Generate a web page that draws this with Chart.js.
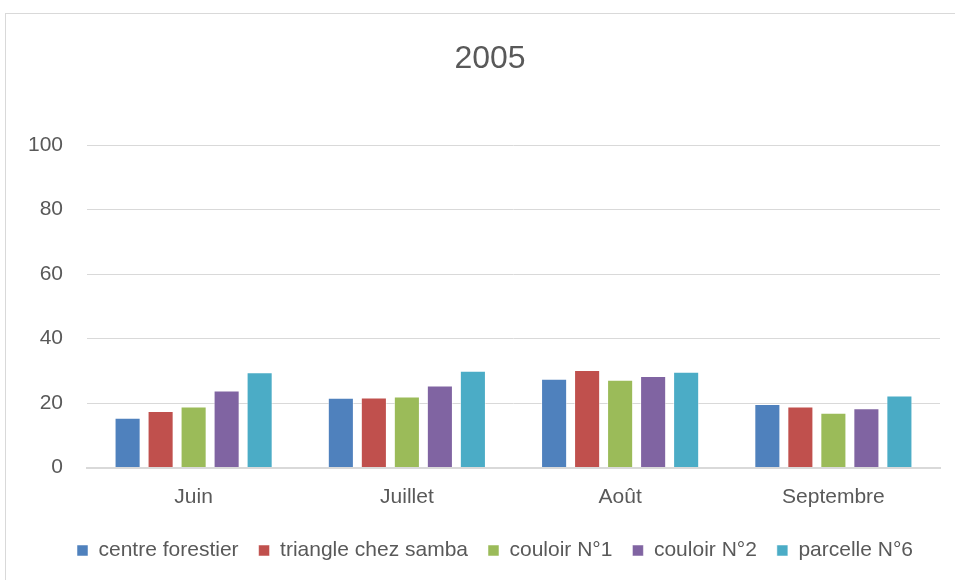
<!DOCTYPE html>
<html>
<head>
<meta charset="utf-8">
<script src="https://cdn.jsdelivr.net/npm/chart.js@4"></script>
<style>
  html, body { margin: 0; padding: 0; background: #fff; overflow: hidden; }
  #frame { position: absolute; left: 5px; top: 13px; width: 1000px; height: 1000px; border: 1px solid #d9d9d9; box-sizing: border-box; }
  #wrap { position: absolute; left: 0; top: 0; width: 955px; height: 580px; }
</style>
</head>
<body>
<div id="frame"></div>
<div id="wrap"><canvas id="c" width="955" height="580"></canvas></div>
<script>
const titleText = "2005";
const categories = ["Juin", "Juillet", "Août", "Septembre"];
const seriesNames = ["centre forestier", "triangle chez samba", "couloir N°1", "couloir N°2", "parcelle N°6"];
const centreForestier = [15.4, 21.6, 27.5, 19.7];
const triangleChezSamba = [17.5, 21.7, 30.2, 18.9];
const couloirN1 = [18.9, 22.0, 27.2, 17.0];
const couloirN2 = [23.9, 25.4, 28.4, 18.4];
const parcelleN6 = [29.5, 30.0, 29.7, 22.3];
const yTicks = [0, 20, 40, 60, 80, 100];

const colors = ["#4f81bd", "#c0504d", "#9bbb59", "#8064a2", "#4bacc6"];
const seriesValues = [centreForestier, triangleChezSamba, couloirN1, couloirN2, parcelleN6];
const FONT = "'Liberation Sans', Arial, sans-serif";
const TXT = "#595959";

const blockShift = {
  id: "blockShift",
  afterLayout(chart) {
    const l = chart.legend;
    if (l) { l.left += 25; l.right += 25; }
    const t = chart.titleBlock;
    if (t) { t.left += 20; t.right += 20; }
  }
};

new Chart(document.getElementById("c"), {
  type: "bar",
  data: {
    labels: categories,
    datasets: seriesNames.map((n, i) => ({
      label: n,
      data: seriesValues[i],
      backgroundColor: colors[i],
      borderColor: "rgba(255,255,255,0.5)",
      borderWidth: 1,
      categoryPercentage: 0.774,
      barPercentage: 0.79
    }))
  },
  plugins: [blockShift],
  options: {
    responsive: false,
    animation: false,
    devicePixelRatio: 1,
    layout: { padding: { left: 0, right: 15, top: 0, bottom: 9 } },
    plugins: {
      title: {
        display: true,
        text: titleText,
        color: TXT,
        font: { family: FONT, size: 32, weight: "normal", lineHeight: 1.2 },
        padding: { top: 40, bottom: 66.6 }
      },
      legend: {
        position: "bottom",
        labels: {
          color: TXT,
          font: { family: FONT, size: 21 },
          boxWidth: 11,
          boxHeight: 11,
          padding: 20
        }
      },
      tooltip: { enabled: false }
    },
    scales: {
      x: {
        grid: { display: false, drawTicks: false },
        border: { display: true, color: "#d9d9d9", width: 2 },
        ticks: { color: TXT, font: { family: FONT, size: 21 }, padding: 17.5 },
        afterFit: (s) => { s.height = 52.5; }
      },
      y: {
        min: 0,
        max: 100,
        afterBuildTicks: (s) => { s.ticks = yTicks.map(v => ({ value: v })); },
        grid: { color: "#d9d9d9", lineWidth: 1, drawTicks: false },
        border: { display: false },
        ticks: { color: TXT, font: { family: FONT, size: 21 }, padding: 24 },
        afterFit: (s) => { s.width = 87; }
      }
    }
  }
});
</script>
</body>
</html>
